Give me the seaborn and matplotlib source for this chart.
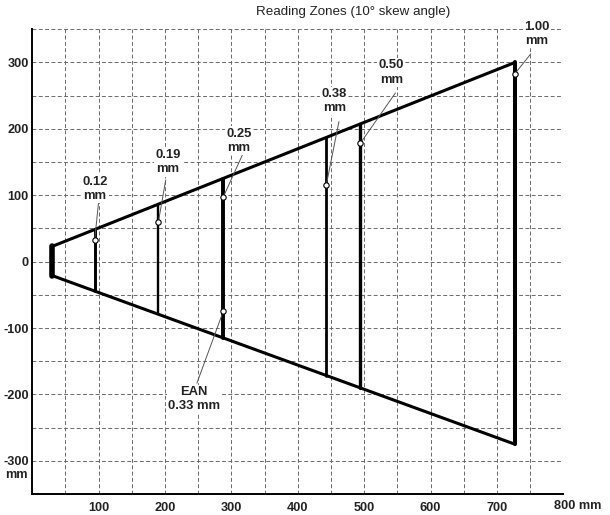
import matplotlib
matplotlib.use('Agg')
import matplotlib.pyplot as plt
import seaborn as sns
import pandas as pd
from matplotlib.transforms import blended_transform_factory

# ---------------- data ----------------
title = "Reading Zones (10° skew angle)"

# outer field of view edges (mm)
edge_x = [30, 727]
upper_y = [23, 300]
lower_y = [-21, -275]

# far limits of each reading zone
zone_x = [94, 190, 288, 443, 494, 727]
zone_top = [48, 87, 124, 187, 207, 300]
zone_bottom = [-44, -79, -115, -172, -191, -275]

# annotations
labels = ["0.12\nmm", "0.19\nmm", "0.25\nmm", "EAN\n0.33 mm", "0.38\nmm", "0.50\nmm", "1.00\nmm"]
mark_x = [94, 190, 288, 288, 443, 494, 727]
mark_y = [33, 60, 98, -74, 116, 178, 283]
label_x = [94, 204, 311, 244, 455, 541, 760]
label_y = [110, 150, 182, -207, 242, 285, 343]
leader_x = [100, 201, 318, 248, 462, 547, 751]
leader_y = [91, 123, 164, -183, 211, 254, 313]

x_ticks = [100, 200, 300, 400, 500, 600, 700]
y_ticks = [-300, -200, -100, 0, 100, 200, 300]

# ---------------- style ----------------
sns.set_theme(style="white")
plt.rcParams['font.family'] = ['Liberation Sans', 'DejaVu Sans']

fig = plt.figure(figsize=(6.10, 5.15), dpi=100)
ax = fig.add_axes([32.3 / 610, 21 / 515, 531 / 610, 464.7 / 515])

zone_lw = [2.1, 1.7, 2.8, 2.0, 2.4, 2.9]

# outline
edges = pd.DataFrame({
    "x": edge_x + edge_x,
    "y": upper_y + lower_y,
    "edge": ["upper", "upper", "lower", "lower"],
})
sns.lineplot(data=edges, x="x", y="y", units="edge", estimator=None, sort=False,
             color="black", lw=2.2, ax=ax, zorder=4, legend=False,
             solid_capstyle="projecting")
left = pd.DataFrame({"x": [edge_x[0], edge_x[0]], "y": [upper_y[0], lower_y[0]]})
sns.lineplot(data=left, x="x", y="y", estimator=None, sort=False, color="black",
             lw=4.0, ax=ax, zorder=4, legend=False)

# zone verticals
for zx, zt, zb, lw in zip(zone_x, zone_top, zone_bottom, zone_lw):
    d = pd.DataFrame({"x": [zx, zx], "y": [zb, zt]})
    sns.lineplot(data=d, x="x", y="y", estimator=None, sort=False, color="black",
                 lw=lw, ax=ax, zorder=4, legend=False)

# leader lines
for lx, ly, mx, my in zip(leader_x, leader_y, mark_x, mark_y):
    ax.plot([lx, mx], [ly, my], color="#555555", lw=0.7, zorder=5)

# markers
marks = pd.DataFrame({"x": mark_x, "y": mark_y})
sns.scatterplot(data=marks, x="x", y="y", ax=ax, s=15, color="white",
                edgecolor="black", linewidth=0.8, zorder=6, legend=False)

# labels
for t, tx, ty in zip(labels, label_x, label_y):
    ax.text(tx, ty, t, ha="center", va="center", fontsize=9.4, fontweight="bold",
            color="#222222", linespacing=1.25, zorder=7,
            bbox=dict(boxstyle="square,pad=0.1", fc="white", ec="none"))

# axes
ax.set_xlim(0, 800)
ax.set_ylim(-350, 350)
ax.set_xticks(x_ticks)
ax.set_yticks(y_ticks)
ax.set_xticks(range(50, 801, 50), minor=True)
ax.set_yticks(range(-350, 351, 50), minor=True)
ax.set_xticklabels([str(v) for v in x_ticks], fontsize=9.2, fontweight="bold", color="#222222")
ax.set_yticklabels([str(v) for v in y_ticks], fontsize=9.2, fontweight="bold", color="#222222")
ax.tick_params(axis="both", which="both", length=0)
ax.tick_params(axis="x", pad=6)
ax.tick_params(axis="y", pad=2.5)
ax.grid(True, which="both", color="#6a6a6a", lw=0.7, linestyle=(0, (4, 2.5)))
ax.set_axisbelow(True)
for s in ["top", "right"]:
    ax.spines[s].set_visible(False)
for s in ["left", "bottom"]:
    ax.spines[s].set_color("black")
    ax.spines[s].set_linewidth(1.4)
ax.set_xlabel("")
ax.set_ylabel("")

tr = blended_transform_factory(ax.transData, ax.transAxes)
ax.text(785.5, -0.026, "800 mm", transform=tr, ha="left", va="center",
        fontsize=9.2, fontweight="bold", color="#222222", clip_on=False)
ax.text(-6.5, -321, "mm", ha="right", va="center", fontsize=9.2, fontweight="bold",
        color="#222222", clip_on=False)

fig.text(353 / 610, 1 - 12.5 / 515, title, ha="center", va="center", fontsize=9.6,
         color="#222222")

fig.savefig("out.png", dpi=100)
